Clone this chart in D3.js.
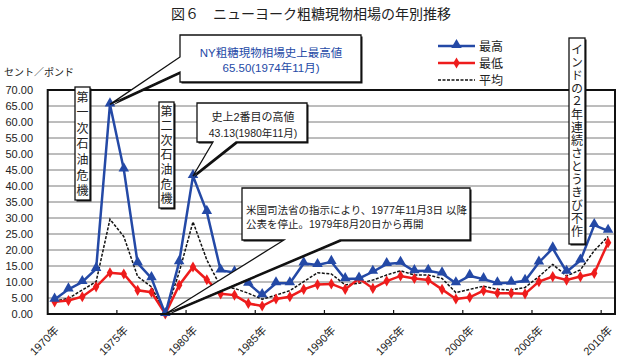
<!DOCTYPE html>
<html>
<head>
<meta charset="utf-8">
<script src="https://cdn.jsdelivr.net/npm/d3@7/dist/d3.min.js"></script>
<style>
  body { margin: 0; background: #fff; }
  svg { display: block; }
  text { font-family: "Liberation Sans", "Noto Sans CJK JP", sans-serif; }
</style>
</head>
<body>
<svg id="chart" width="620" height="361"></svg>
<script>
// --- data (cents / pound) ---
const years = [1970, 1971, 1972, 1973, 1974, 1975, 1976, 1977, 1978, 1979,
               1980, 1981, 1982, 1983, 1984, 1985, 1986, 1987, 1988, 1989,
               1990, 1991, 1992, 1993, 1994, 1995, 1996, 1997, 1998, 1999,
               2000, 2001, 2002, 2003, 2004, 2005, 2006, 2007, 2008, 2009, 2010];
const high = [4.5, 7.7, 10.0, 14.1, 65.5, 45.2, 15.9, 11.2, 0, 16.2,
              43.13, 31.9, 13.6, 13.0, 9.5, 5.9, 9.6, 9.6, 15.8, 15.3,
              16.3, 10.9, 11.1, 13.2, 15.6, 16.0, 13.4, 13.5, 12.7, 9.6,
              11.9, 10.9, 9.6, 9.8, 10.4, 16.1, 20.5, 13.2, 16.7, 27.8, 26.0];
const low = [3.8, 4.2, 5.4, 8.5, 12.9, 12.5, 7.4, 6.8, 0, 9.0,
             14.7, 10.7, 6.3, 5.9, 3.3, 2.5, 4.7, 5.4, 7.7, 9.2,
             9.4, 7.7, 11.1, 8.0, 10.3, 11.9, 11.1, 10.6, 7.7, 4.7,
             5.2, 7.3, 6.5, 6.5, 6.3, 10.1, 11.7, 10.6, 11.7, 12.7, 22.3];
const avg = [4.0, 4.9, 7.5, 10.1, 29.6, 24.2, 11.7, 8.5, 0, 13.0,
             28.8, 16.9, 8.5, 8.0, 6.5, 4.6, 5.9, 7.3, 10.1, 12.9,
             12.5, 9.1, 9.6, 10.6, 12.2, 13.5, 12.2, 12.2, 11.1, 6.7,
             7.7, 8.7, 7.7, 7.5, 8.3, 11.7, 15.5, 11.9, 13.8, 19.8, 24.2];
const yTicks = [0, 5, 10, 15, 20, 25, 30, 35, 40, 45, 50, 55, 60, 65, 70];
const labelYears = [1970, 1975, 1980, 1985, 1990, 1995, 2000, 2005, 2010];
const seriesNames = ['最高', '最低', '平均'];

const BLUE = '#2449a6', RED = '#ee1c1c';

const svg = d3.select('#chart');
const plot = {left: 47.7, right: 615, top: 90, bottom: 314};

const x = d3.scaleBand().domain(years).range([plot.left, plot.right]).padding(0);
const y = d3.scaleLinear().domain([0, 70]).range([plot.bottom, plot.top]);
const cx = yr => x(yr) + x.bandwidth() / 2;

// title
svg.append('text')
    .attr('x', 311).attr('y', 19)
    .attr('text-anchor', 'middle')
    .style('font-size', '14px')
    .style('font-family', '"Noto Sans CJK JP", sans-serif')
    .attr('fill', '#222')
    .text('図６　ニューヨーク粗糖現物相場の年別推移');

svg.append('text')
    .attr('x', 4).attr('y', 76)
    .style('font-size', '10px')
    .style('font-family', '"Noto Sans CJK JP", sans-serif')
    .attr('fill', '#222')
    .text('セント／ポンド');

// grid
svg.append('g')
    .selectAll('line')
    .data(yTicks.filter(d => d > 0 && d < 70))
    .join('line')
        .attr('x1', plot.left).attr('x2', plot.right)
        .attr('y1', d => y(d)).attr('y2', d => y(d))
        .attr('stroke', '#7a7a7a')
        .attr('stroke-width', 1);

// y labels
svg.append('g')
    .selectAll('text')
    .data(yTicks)
    .join('text')
        .attr('x', 33).attr('y', d => y(d) + 4)
        .attr('text-anchor', 'end')
        .style('font-size', '11px')
        .attr('fill', '#222')
        .text(d => d3.format('.2f')(d));

// x ticks (inside, at category boundaries) and labels
svg.append('g')
    .selectAll('line')
    .data(labelYears.filter(d => d > 1970))
    .join('line')
        .attr('x1', d => x(d)).attr('x2', d => x(d))
        .attr('y1', plot.bottom).attr('y2', plot.bottom - 4)
        .attr('stroke', '#111').attr('stroke-width', 1.2);

svg.append('g')
    .selectAll('text')
    .data(labelYears)
    .join('text')
        .attr('text-anchor', 'end')
        .attr('transform', d => `translate(${cx(d) + 5}, ${plot.bottom + 17}) rotate(-45)`)
        .style('font-size', '11px')
        .attr('fill', '#222')
        .text(d => d + '年');

// series
const line = vals => d3.line()
    .x((d, i) => cx(years[i]))
    .y(d => y(d))(vals);

svg.append('path')
    .attr('d', line(avg))
    .attr('fill', 'none')
    .attr('stroke', '#111')
    .attr('stroke-width', 1.5)
    .attr('stroke-dasharray', '3,1.5');

svg.append('path')
    .attr('d', line(low))
    .attr('fill', 'none')
    .attr('stroke', RED)
    .attr('stroke-width', 2.5);
svg.append('g')
    .selectAll('path')
    .data(low)
    .join('path')
        .attr('transform', (d, i) => `translate(${cx(years[i])}, ${y(d)})`)
        .attr('d', d3.symbol(d3.symbolDiamond, 36))
        .attr('fill', RED);

svg.append('path')
    .attr('d', line(high))
    .attr('fill', 'none')
    .attr('stroke', BLUE)
    .attr('stroke-width', 2.5);
svg.append('g')
    .selectAll('path')
    .data(high)
    .join('path')
        .attr('transform', (d, i) => `translate(${cx(years[i])}, ${y(d) - 1})`)
        .attr('d', d3.symbol(d3.symbolTriangle, 48))
        .attr('fill', BLUE);

// plot frame
svg.append('rect')
    .attr('x', plot.left).attr('y', plot.top)
    .attr('width', plot.right - plot.left).attr('height', plot.bottom - plot.top)
    .attr('fill', 'none')
    .attr('stroke', '#111')
    .attr('stroke-width', 2);

// --- annotations ---
function calloutPath(b, side, base, tip) {
    const {x0, y0, x1, y1} = b;
    if (side === 'left') {
        return `M${x0},${y0}H${x1}V${y1}H${x0}V${base[1]}L${tip[0]},${tip[1]}L${x0},${base[0]}Z`;
    }
    return `M${x0},${y0}H${x1}V${y1}H${base[1]}L${tip[0]},${tip[1]}L${base[0]},${y1}H${x0}Z`;
}

function callout(b, side, base, tip, lines, color, anchor) {
    const g = svg.append('g');
    const d = calloutPath(b, side, base, tip);
    g.append('path').attr('d', d).attr('transform', 'translate(1.5,1.5)').attr('fill', '#111');
    g.append('path').attr('d', d).attr('fill', '#fff').attr('stroke', '#111').attr('stroke-width', 1.3);
    lines.forEach(l => {
        g.append('text')
            .attr('x', l.x).attr('y', l.y)
            .attr('text-anchor', anchor)
            .style('font-size', l.size || '11px')
            .attr('fill', color)
            .text(l.t);
    });
}

callout({x0: 180, y0: 35, x1: 361, y1: 82}, 'left', [57, 72], [cx(1974), y(65.5)],
    [{x: 271, y: 57, t: 'NY粗糖現物相場史上最高値', size: '11.5px'},
     {x: 271, y: 72, t: '65.50(1974年11月)', size: '11.5px'}],
    BLUE, 'middle');

callout({x0: 197, y0: 103, x1: 307, y1: 142}, 'bottom', [213, 236], [cx(1980), y(43.13)],
    [{x: 253, y: 121, t: '史上2番目の高値'}, {x: 253, y: 137, t: '43.13(1980年11月)', size: '10.5px'}],
    '#222', 'middle');

callout({x0: 242, y0: 188, x1: 470, y1: 240}, 'bottom', [284, 340], [cx(1978), y(0)],
    [{x: 246, y: 214, t: '米国司法省の指示により、1977年11月3日 以降', size: '10.5px'},
     {x: 246, y: 228, t: '公表を停止。1979年8月20日から再開', size: '10.5px'}],
    '#222', 'start');

// vertical boxes, text set top-to-bottom as one text element
function vbox(x0, y0, w, h, str, spacing, top) {
    const g = svg.append('g');
    g.append('rect').attr('x', x0 + 1.5).attr('y', y0 + 1.5).attr('width', w).attr('height', h).attr('fill', '#111');
    g.append('rect').attr('x', x0).attr('y', y0).attr('width', w).attr('height', h)
        .attr('fill', '#fff').attr('stroke', '#111').attr('stroke-width', 1.3);
    g.append('text')
        .attr('x', x0 + w / 2)
        .attr('y', top)
        .style('writing-mode', 'vertical-rl')
        .style('text-orientation', 'upright')
        .style('letter-spacing', spacing + 'px')
        .style('font-size', '12px')
        .style('font-family', '"Noto Sans CJK JP", sans-serif')
        .attr('fill', '#222')
        .text(str);
}

vbox(75, 87, 15, 113, '第一次石油危機', 3.6, 91);
vbox(159, 102, 15, 106, '第二次石油危機', 2.6, 105);
vbox(569, 38, 16, 206, 'インドの２年連続さとうきび不作', 1, 43);

// legend
const legend = svg.append('g');
const legY = [46, 63, 80];
seriesNames.forEach((name, i) => {
    const row = legend.append('g').attr('transform', `translate(0, ${legY[i]})`);
    row.append('line')
        .attr('x1', 438).attr('x2', 475)
        .attr('stroke', [BLUE, RED, '#111'][i])
        .attr('stroke-width', i === 2 ? 1.5 : 2.5)
        .attr('stroke-dasharray', i === 2 ? '3,1.5' : null);
    if (i < 2) {
        row.append('path')
            .attr('transform', `translate(456.5, ${i === 0 ? -1 : 0})`)
            .attr('d', d3.symbol(i === 0 ? d3.symbolTriangle : d3.symbolDiamond, i === 0 ? 48 : 36))
            .attr('fill', [BLUE, RED][i]);
    }
    row.append('text')
        .attr('x', 479).attr('y', 4.5)
        .style('font-size', '12px')
        .style('font-family', '"Noto Sans CJK JP", sans-serif')
        .attr('fill', '#222')
        .text(name);
});
</script>
</body>
</html>
